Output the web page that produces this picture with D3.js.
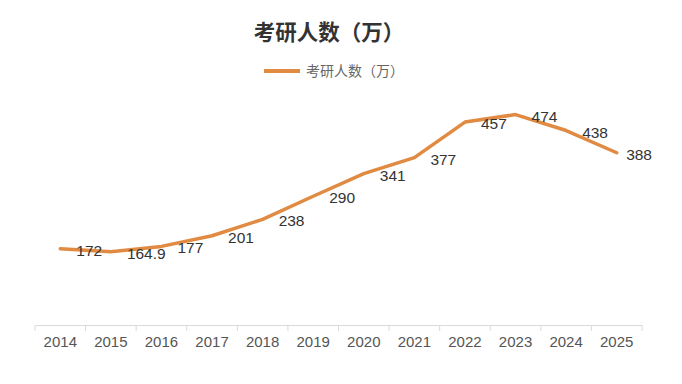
<!DOCTYPE html>
<html><head><meta charset="utf-8">
<script src="https://cdn.jsdelivr.net/npm/d3@7"></script>
<style>body{margin:0;background:#fff;}svg{display:block;}</style>
</head><body>
<svg id="c" width="682" height="384"></svg>
<script>
const years = ["2014","2015","2016","2017","2018","2019","2020","2021","2022","2023","2024","2025"];
const values = [172, 164.9, 177, 201, 238, 290, 341, 377, 457, 474, 438, 388];
const valueLabels = ["172","164.9","177","201","238","290","341","377","457","474","438","388"];
const seriesName = "考研人数（万）";
const titleText = "考研人数（万）";

const svg = d3.select("#c");
const W = 682, H = 384;
const m = {l:35, r:40, t:103, b:59};
const color = "#E08A42";
const font = "'Liberation Sans', Arial, Helvetica, sans-serif";

const x = d3.scaleBand().domain(years).range([m.l, W - m.r]).padding(0);
const y = d3.scaleLinear().domain([0, 500]).range([H - m.b, m.t]);

// title
svg.append("text").attr("x", 329).attr("y", 40).attr("text-anchor", "middle")
  .attr("font-family", "'Noto Sans CJK SC', sans-serif").attr("font-weight", "bold")
  .attr("font-size", 21.5).attr("fill", "#333").text(titleText);

// legend
const lg = svg.append("g");
lg.append("line").attr("x1", 264).attr("x2", 300).attr("y1", 71).attr("y2", 71)
  .attr("stroke", color).attr("stroke-width", 4);
lg.append("text").attr("x", 306).attr("y", 76).attr("font-family", "'Noto Sans CJK SC', sans-serif")
  .attr("font-size", 14).attr("fill", "#666").text(seriesName);

// axis
const axis = d3.axisBottom(x).tickSize(0).tickPadding(11);
const ag = svg.append("g").attr("transform", `translate(0,${H - m.b})`).call(axis);
ag.select(".domain").attr("stroke", "#dadada").attr("stroke-width", 1);
ag.selectAll(".tick text").attr("font-family", font).attr("font-size", 15).attr("fill", "#555");
// boundary ticks
const bounds = years.map(d => x(d)).concat([x(years[years.length-1]) + x.bandwidth()]);
ag.selectAll("line.bt").data(bounds).enter().append("line").attr("class","bt")
  .attr("x1", d => d).attr("x2", d => d).attr("y1", 0).attr("y2", 6)
  .attr("stroke", "#dadada").attr("stroke-width", 1);

// line
const cx = d => x(d) + x.bandwidth() / 2;
const line = d3.line().x((d, i) => cx(years[i])).y(d => y(d));
svg.append("path").datum(values).attr("d", line).attr("fill", "none")
  .attr("stroke", color).attr("stroke-width", 3.5).attr("stroke-linejoin", "round").attr("stroke-linecap", "round");

// labels
svg.selectAll("text.lbl").data(values).enter().append("text").attr("class", "lbl")
  .attr("x", (d, i) => cx(years[i]) + 16)
  .attr("y", d => y(d) + 7)
  .attr("font-family", font).attr("font-size", 15.5).attr("fill", "#333")
  .text((d, i) => valueLabels[i])
  .each(function(d, i){
    const bb = this.getBBox();
    if (bb.x + bb.width > W - 30) d3.select(this).attr("x", W - 30 - bb.width);
  });
</script>
</body></html>
